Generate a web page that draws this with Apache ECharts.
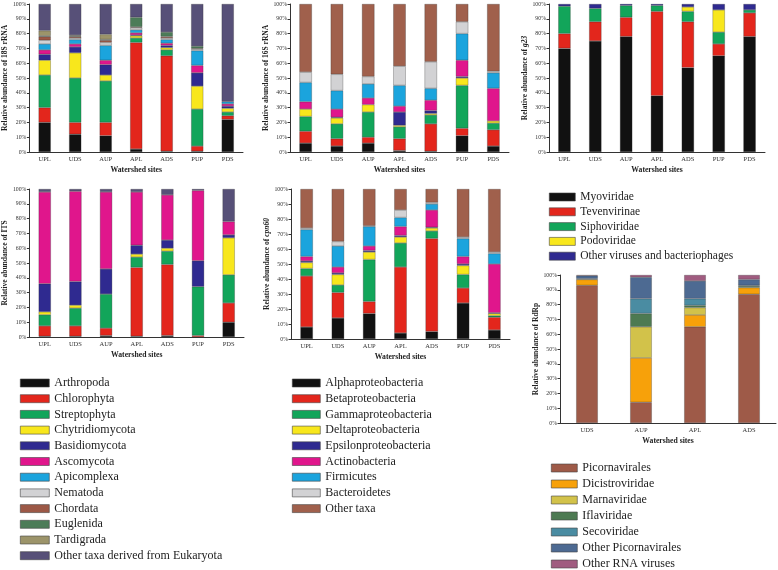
<!DOCTYPE html>
<html><head><meta charset="utf-8">
<script src="https://cdn.jsdelivr.net/npm/echarts@6/dist/echarts.min.js"></script>
<style>html,body{margin:0;padding:0;background:#fff}#c{width:778px;height:570px}</style>
</head><body><div id="c"></div>
<script>
const sites = ['UPL','UDS','AUP','APL','ADS','PUP','PDS'];
const sitesRdRp = ['UDS','AUP','APL','ADS'];
const yTicks = [0,10,20,30,40,50,60,70,80,90,100];

const eukTaxa = ['Arthropoda','Chlorophyta','Streptophyta','Chytridiomycota','Basidiomycota','Ascomycota','Apicomplexa','Nematoda','Chordata','Euglenida','Tardigrada','Other taxa derived from Eukaryota'];
const bacTaxa = ['Alphaproteobacteria','Betaproteobacteria','Gammaproteobacteria','Deltaproteobacteria','Epsilonproteobacteria','Actinobacteria','Firmicutes','Bacteroidetes','Other taxa'];
const phageTaxa = ['Myoviridae','Tevenvirinae','Siphoviridae','Podoviridae','Other viruses and bacteriophages'];
const rnaTaxa = ['Picornavirales','Dicistroviridae','Marnaviridae','Iflaviridae','Secoviridae','Other Picornavirales','Other RNA viruses'];

// values per site (one array per site, taxa order as above), percent
const rRNA18S = [
  [20,10,22,10,4,3,4,2.5,2.5,0.5,3.5,18],
  [12,8,30,17,4,2,3,1,1,0.5,0.5,21],
  [11,9,28,4,7,3,10,2,1.5,0.5,3.5,20.5],
  [2,72,3,1.5,0.5,1.5,2,1.5,0.5,6.5,0,9],
  [0.5,64.5,4,1.5,1.5,1.5,2.5,1,1,3,0,19],
  [0.5,3.5,25,15.5,9,5,10,1,0.5,1.5,0,28.5],
  [22,2.5,2.5,2.5,1.5,1.5,1.5,0,0,0,0,66]
];
const its = [
  [0.5,7,7.5,2,19,62,0,0,0,0,0,2],
  [0.5,7,12,2,16,61,0,0,0,0,0,1.5],
  [1,5,23,0,17,52,0,0,0,0,0,2],
  [0.5,46.5,7,2,6,36,0,0,0,0,0,2],
  [1,48,9,2,5.5,30.5,0,0,0,0,0,4],
  [0,1,33,0,17.5,47.5,0,0,0,0,0,1],
  [10,13,19,25,2,9,0,0,0,0,0,22]
];
const rRNA16S = [
  [6,8,10,5,0,5,13,7,46],
  [4,5,10,4,0.5,5.5,12.5,11,47.5],
  [6,4,17,5,0,4.5,9.5,5,49],
  [1,8,8,1,9,4,14,13,42],
  [0.5,18.5,6,1,2,7,8,18,39],
  [11,5,29,5,1,11,18,8,12],
  [4,11,4.5,1.5,0,22,10.5,1,45.5]
];
const cpn60 = [
  [8,34,5,4,1,3,18,1,26],
  [14,17,5,7,1,4,14,3,35],
  [17,8,28,5,1,3,13,0.5,24.5],
  [4,44,16,4,1,6,6,5,14],
  [5,62,5,2,0.5,11.5,4,1,9],
  [24,10,9,6,1,5,12,1,32],
  [6,8.5,1,1.5,0.5,32.5,7,1,42]
];
const g23 = [
  [70,10,18.5,0,1.5],
  [75,13,9,0,3],
  [78,13,8,0,1],
  [38,57,4,0,1],
  [57,31,7,3,2],
  [65,8,8,15,4],
  [78,16,2,0,4]
];
const rdrp = [
  [93,4,0,0,0.5,2,0.5],
  [14,30,21,9,10,14.5,1.5],
  [65,8,5,1.5,4.5,12,4],
  [87,4.5,0,1,0.5,4,3]
];

const eukColors = ['#111111','#e3261c','#12a55a','#f8e71c','#2f2a90','#e0168c','#1ba4dd','#d2d2d4','#9c5846','#4c7c58','#9c946a','#575078'];
const bacColors = ['#111111','#e3261c','#12a55a','#f8e71c','#2f2a90','#e0168c','#1ba4dd','#d2d2d4','#a0604c'];
const phageColors = ['#111111','#e3261c','#12a55a','#f8e71c','#2f2a90'];
const rnaColors = ['#9e5a48','#f7a10a','#d2c24a','#4d7a52','#4a8ca2','#4d6a92','#a05c80'];

const FONT = 'Liberation Serif';
const grids = [
  {left:27,top:4,width:216,height:148},
  {left:290,top:4,width:219,height:148},
  {left:549,top:4,width:216,height:148},
  {left:27,top:189,width:217,height:148},
  {left:291,top:189,width:219,height:150},
  {left:560,top:275,width:216,height:148}
];
const yNames = [
  '{b|Relative abundance of 18S rRNA}',
  '{b|Relative abundance of 16S rRNA}',
  '{b|Relative abundance of }{i|g23}',
  '{b|Relative abundance of ITS}',
  '{b|Relative abundance of }{i|cpn60}',
  '{b|Relative abundance of RdRp}'
];
const xCats = [sites,sites,sites,sites,sites,sitesRdRp];

const xAxis = xCats.map((c,i)=>({
  type:'category', gridIndex:i, data:c,
  axisLine:{lineStyle:{color:'#333',width:1}},
  axisTick:{show:false},
  axisLabel:{fontFamily:FONT,fontSize:6.5,color:'#333',margin:4},
  name:'Watershed sites', nameLocation:'middle', nameGap:14,
  nameTextStyle:{fontFamily:FONT,fontSize:7.7,fontWeight:'bold',color:'#222'}
}));
const yAxis = yNames.map((n,i)=>({
  type:'value', gridIndex:i, min:0, max:100, interval:10,
  axisLine:{show:true,lineStyle:{color:'#333',width:1}},
  axisTick:{show:true,length:2.5,lineStyle:{color:'#333'}},
  splitLine:{show:false},
  axisLabel:{fontFamily:FONT,fontSize:5.8,color:'#333',margin:3,formatter:'{value}%'},
  name:n, nameLocation:'middle', nameGap:18, nameRotate:90,
  nameTextStyle:{fontFamily:FONT,fontSize:7.5,color:'#222',
    rich:{b:{fontFamily:FONT,fontSize:7.5,fontWeight:'bold',color:'#222'},
          i:{fontFamily:FONT,fontSize:7.5,fontWeight:'bold',fontStyle:'italic',color:'#222'}}}
}));

const series = [];
function addPanel(idx, taxa, colors, bySite){
  taxa.forEach((t,k)=>{
    series.push({
      type:'bar', name:t, xAxisIndex:idx, yAxisIndex:idx, stack:'p'+idx,
      barWidth:'40%',
      itemStyle:{color:colors[k],borderColor:'rgba(40,40,40,0.55)',borderWidth:0.5},
      data:bySite.map(s=> s[k]===0 ? '-' : s[k])
    });
  });
}
addPanel(0,eukTaxa,eukColors,rRNA18S);
addPanel(1,bacTaxa,bacColors,rRNA16S);
addPanel(2,phageTaxa,phageColors,g23);
addPanel(3,eukTaxa,eukColors,its);
addPanel(4,bacTaxa,bacColors,cpn60);
addPanel(5,rnaTaxa,rnaColors,rdrp);

function legend(data,left,top,w,fs,gap){
  return {data:data,orient:'vertical',left:left,top:top,width:240,height:260,padding:0,
    itemWidth:w,itemHeight:8,itemGap:gap,
    selectedMode:false,icon:'rect',
    itemStyle:{borderColor:'#444',borderWidth:0.6},
    textStyle:{fontFamily:FONT,fontSize:fs,lineHeight:fs,color:'#222',padding:[0,0,0,0]}};
}

const chart = echarts.init(document.getElementById('c'),null,{renderer:'canvas'});
chart.setOption({
  animation:false,
  backgroundColor:'#fff',
  grid:grids,
  xAxis:xAxis,
  yAxis:yAxis,
  legend:[
    legend(eukTaxa,20,377,29,12,3.7),
    legend(bacTaxa,292,377,28,12,3.7),
    legend(phageTaxa,549,191,26,11.5,2.8),
    legend(rnaTaxa,551,462,26,12,4)
  ],
  series:series
});
</script>
</body></html>
